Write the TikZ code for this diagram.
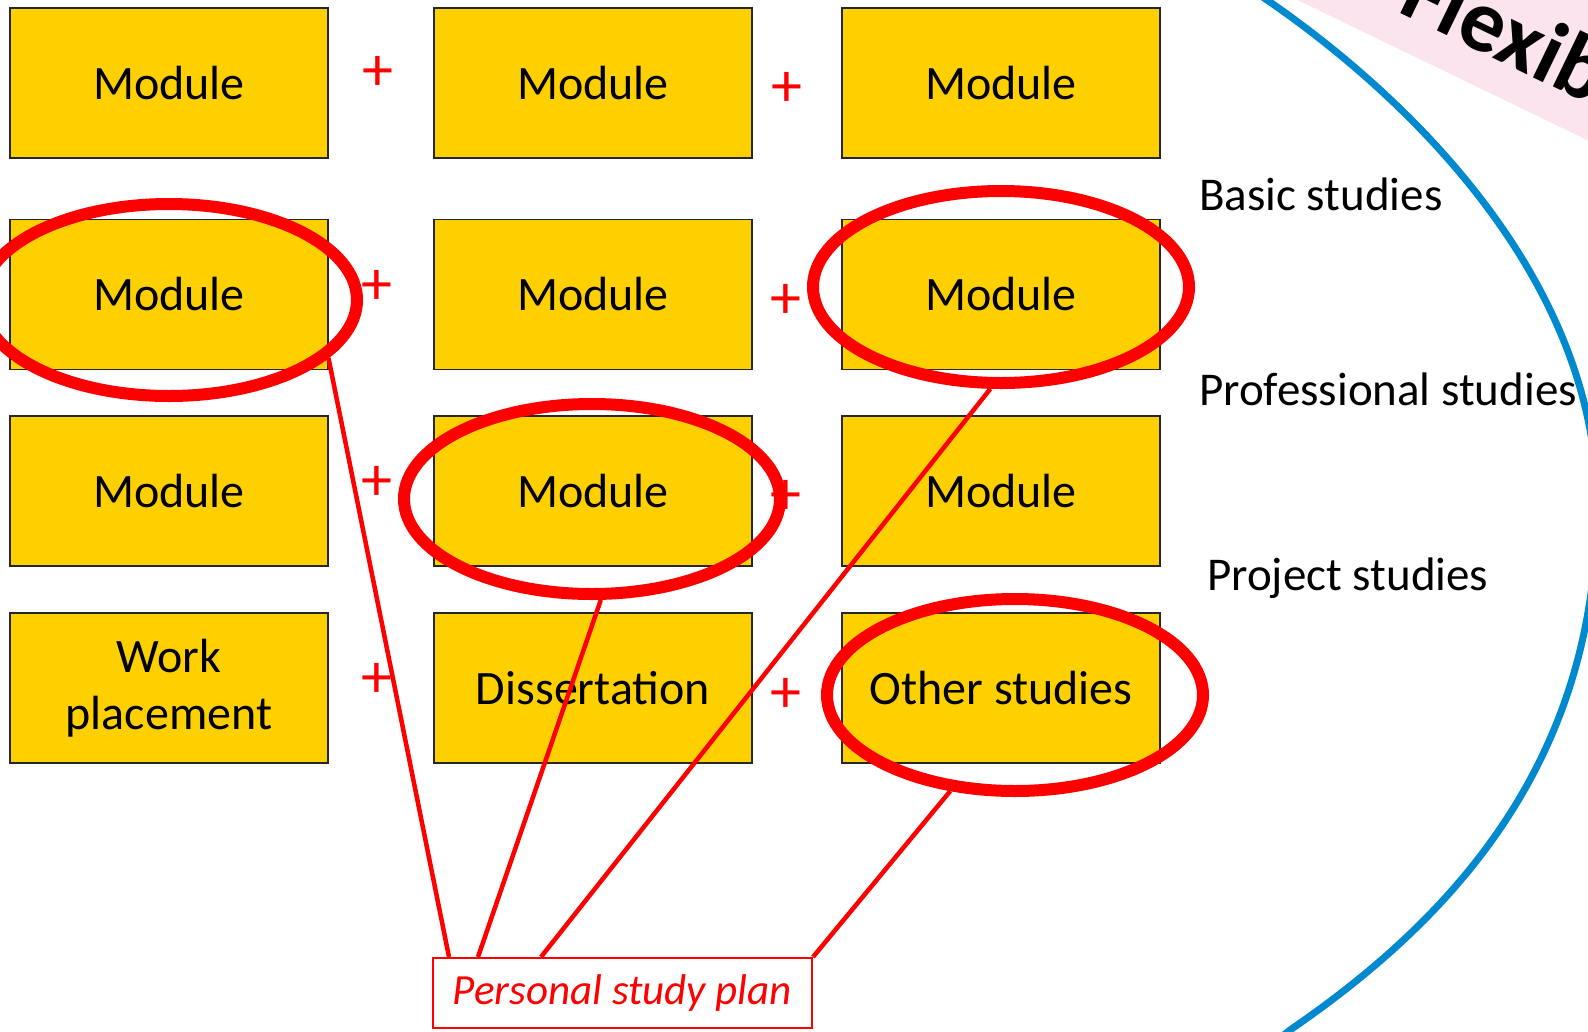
\documentclass[tikz,border=0pt]{standalone}
\usepackage{fontspec}
\setmainfont{Carlito}
\usetikzlibrary{shapes.geometric,calc}
\definecolor{gold}{RGB}{255,208,0}
\definecolor{blu}{RGB}{0,137,207}
\definecolor{pinkband}{RGB}{252,228,238}
\begin{document}
\begin{tikzpicture}[x=1pt,y=-1pt,
  modbox/.style={draw=black!85, line width=1.5pt, fill=gold, minimum width=318pt, minimum height=150pt, inner sep=0pt, font=\fontsize{48}{57}\selectfont, align=center},
  hoop/.style={ellipse, draw=red, line width=12pt, minimum width=376pt, minimum height=192pt, inner sep=0pt},
  plussign/.style={text=red, font=\fontsize{62}{62}\selectfont, inner sep=0pt},
  sidelab/.style={anchor=base west, font=\fontsize{47}{56}\selectfont, inner sep=0pt},
  redlink/.style={draw=red, line width=4.5pt}]
\useasboundingbox (0,0) rectangle (1588,1031);
\clip (0,0) rectangle (1588,1031);

% pink band with rotated title
\begin{scope}[shift={(1396,11)}, rotate=-25.8]
  \fill[pinkband] (-600,33) rectangle (900,-500);
\end{scope}
\node[rotate=-25.8, anchor=base west, inner sep=0pt, font=\fontsize{89}{89}\selectfont\bfseries] (flex) at (1396,11) {Flexibility};

% blue arc
\draw[blu, line width=7pt] (1240,-19) -- (1267,0)
  .. controls (1417,103) and (1597,285) .. (1597,505)
  .. controls (1597,760) and (1455,917) .. (1290,1030) -- (1250,1062);

% module boxes
\node[modbox] (m11) at (169,83) {Module};
\node[modbox] (m12) at (593,83) {Module};
\node[modbox] (m13) at (1001,83) {Module};
\node[modbox] (m21) at (169,294.5) {Module};
\node[modbox] (m22) at (593,294.5) {Module};
\node[modbox] (m23) at (1001,294.5) {Module};
\node[modbox] (m31) at (169,491) {Module};
\node[modbox] (m32) at (593,491) {Module};
\node[modbox] (m33) at (1001,491) {Module};
\node[modbox] (m41) at (169,688) {Work\\placement};
\node[modbox] (m42) at (593,688) {Dissertation};
\node[modbox] (m43) at (1001,688) {Other studies};

% plus signs
\node[plussign] (p11) at (378,73) {+};
\node[plussign] (p12) at (787,89) {+};
\node[plussign] (p21) at (377,287) {+};
\node[plussign] (p22) at (786,301) {+};
\node[plussign] (p31) at (377,483) {+};
\node[plussign] (p32) at (786,497) {+};
\node[plussign] (p41) at (377,680) {+};
\node[plussign] (p42) at (786,695) {+};

% side labels
\node[sidelab] (basic) at (1199,210) {Basic studies};
\node[sidelab] (prof) at (1199,405) {Professional studies};
\node[sidelab] (proj) at (1207,590) {Project studies};

% selection ellipses
\node[hoop] (e1) at (169,300) {};
\node[hoop] (e2) at (1001,287) {};
\node[hoop, minimum height=190pt] (e3) at (592,499) {};
\node[hoop] (e4) at (1015,695) {};

% personal study plan
\node[draw=red, line width=2pt, fill=white, minimum width=379pt, minimum height=70pt, inner sep=0pt, text=red, font=\fontsize{43}{50}\selectfont\itshape] (psp) at (622.5,993) {Personal study plan};

\draw[redlink] (e1.-20.6) -- ($(psp.north west)+(17,0)$);
\draw[redlink] (e3.-85.5) -- ($(psp.north west)+(46,0)$);
\draw[redlink] (e2.-96) -- ($(psp.north west)+(109,0)$);
\draw[redlink] (e4.-124) -- (psp.north east);
\end{tikzpicture}
\end{document}
